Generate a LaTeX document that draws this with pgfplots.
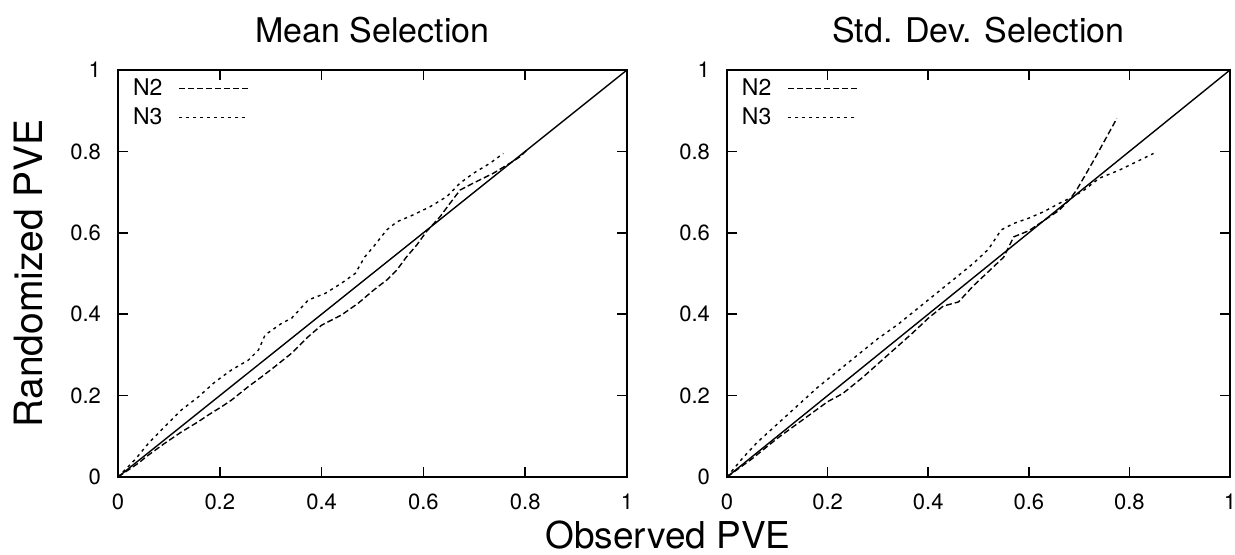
\documentclass[border=0pt]{standalone}
\usepackage{fontspec}
\setmainfont{TeX Gyre Heros}
\usepackage{pgfplots}
\pgfplotsset{compat=1.18}

\pgfplotsset{
  pvebox/.style={
    scale only axis, height=203.5pt,
    xmin=0, xmax=1, ymin=0, ymax=1,
    xtick={0,0.2,0.4,0.6,0.8,1},
    ytick={0,0.2,0.4,0.6,0.8,1},
    tick align=inside, major tick length=5pt,
    every tick/.style={black, line width=0.8pt},
    axis line style={line width=0.8pt},
    /pgf/number format/assume math mode=true,
    tick label style={font=\fontsize{11}{13}\selectfont},
    xticklabel style={yshift=-5pt},
    yticklabel style={xshift=-5pt},
    title style={at={(0.5,1)}, anchor=base, yshift=7.5pt,
      font=\fontsize{17}{20}\selectfont},
    legend style={draw=none, fill=none, at={(0.025,0.985)},
      anchor=north west, inner sep=0pt, row sep=2.7pt, column sep=7pt,
      nodes={inner sep=1pt}, font=\fontsize{11.5}{13}\selectfont},
    legend cell align=left,
    legend plot pos=right,
    legend image code/.code={\draw[##1] (0pt,0pt) -- (35pt,0pt);},
  },
  n2/.style={black, line width=0.7pt, dash pattern=on 3pt off 1.5pt},
  n3/.style={black, line width=0.7pt, dash pattern=on 1.5pt off 2pt},
  diag/.style={black, line width=0.7pt, forget plot},
}

\begin{document}
\begin{tikzpicture}
\path[use as bounding box] (0,0) rectangle (617.5pt,277.5pt);

% left panel
\begin{axis}[pvebox, width=254.5pt, at={(59pt,39pt)}, anchor=south west,
  title={Mean Selection}]
\addplot[n2] coordinates {
  (0,0) (0.04,0.034) (0.06,0.054) (0.092,0.083) (0.125,0.111) (0.158,0.136)
  (0.177,0.152) (0.204,0.173) (0.223,0.189) (0.256,0.222) (0.282,0.246)
  (0.308,0.271) (0.341,0.304) (0.374,0.345) (0.4,0.373) (0.439,0.398)
  (0.472,0.427) (0.502,0.459) (0.528,0.484) (0.548,0.509) (0.567,0.541)
  (0.587,0.57) (0.606,0.603) (0.633,0.64) (0.652,0.672) (0.672,0.705)
  (0.698,0.722) (0.737,0.746) (0.77,0.771) (0.79,0.787) (0.803,0.803)};
\addlegendentry{N2}
\addplot[n3] coordinates {
  (0,0) (0.033,0.042) (0.06,0.083) (0.092,0.124) (0.125,0.165) (0.158,0.197)
  (0.191,0.234) (0.223,0.263) (0.256,0.287) (0.276,0.312) (0.289,0.349)
  (0.322,0.378) (0.341,0.39) (0.374,0.435) (0.407,0.451) (0.439,0.476)
  (0.466,0.5) (0.485,0.541) (0.502,0.566) (0.528,0.607) (0.548,0.627)
  (0.58,0.644) (0.613,0.664) (0.646,0.689) (0.672,0.722) (0.698,0.746)
  (0.731,0.771) (0.757,0.795)};
\addlegendentry{N3}
\addplot[diag] coordinates {(0,0) (1,1)};
\end{axis}

% right panel
\begin{axis}[pvebox, width=251.5pt, at={(363.5pt,39pt)}, anchor=south west,
  title={Std. Dev. Selection}]
\addplot[n2] coordinates {
  (0,0) (0.05,0.045) (0.1,0.095) (0.15,0.14) (0.2,0.185) (0.23,0.205)
  (0.27,0.245) (0.32,0.3) (0.37,0.355) (0.4,0.39) (0.43,0.42) (0.46,0.43)
  (0.49,0.47) (0.52,0.505) (0.55,0.54) (0.57,0.59) (0.6,0.605) (0.63,0.63)
  (0.66,0.655) (0.68,0.68) (0.695,0.705) (0.73,0.78) (0.755,0.836)
  (0.775,0.881)};
\addlegendentry{N2}
\addplot[n3] coordinates {
  (0,0) (0.03,0.045) (0.06,0.085) (0.1,0.13) (0.14,0.175) (0.18,0.22)
  (0.22,0.26) (0.26,0.3) (0.3,0.34) (0.34,0.375) (0.38,0.415) (0.42,0.455)
  (0.46,0.495) (0.49,0.525) (0.52,0.56) (0.545,0.607) (0.57,0.623)
  (0.6,0.636) (0.63,0.652) (0.66,0.672) (0.69,0.69) (0.71,0.705)
  (0.74,0.734) (0.78,0.754) (0.815,0.775) (0.848,0.795)};
\addlegendentry{N3}
\addplot[diag] coordinates {(0,0) (1,1)};
\end{axis}

\node[rotate=90, anchor=base, font=\fontsize{19.5}{23}\selectfont]
  at (21pt,140.75pt) {Randomized PVE};
\node[anchor=base, font=\fontsize{18.5}{22}\selectfont]
  at (334pt,3pt) {Observed PVE};
\end{tikzpicture}
\end{document}
